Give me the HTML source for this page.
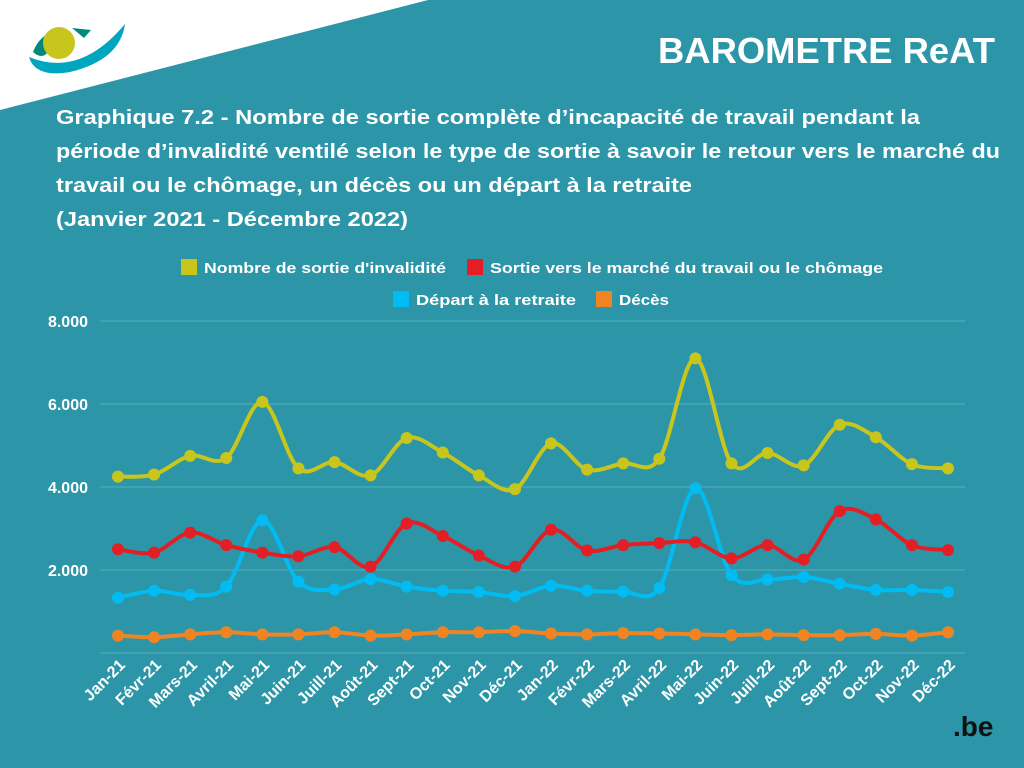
<!DOCTYPE html>
<html><head><meta charset="utf-8"><style>
html,body{margin:0;padding:0;}
body{width:1024px;height:768px;background:#2C96A8;position:relative;overflow:hidden;font-family:"Liberation Sans",sans-serif;color:#fff;}
</style></head><body>
<svg width="1024" height="768" style="position:absolute;left:0;top:0">
<polygon points="0,0 428,0 0,110" fill="#fff"/>
<g>
<path d="M33,52 Q40,33 60,30 L48,52 Q42,60 33,52Z" fill="#00897b"/>
<path d="M72,28 L91,30 L84,38 Z" fill="#00897b"/>
<path d="M29,57 Q80,78 125,24 Q120,60 70,72 Q35,78 29,57Z" fill="#00a5be"/>
<circle cx="59" cy="43" r="16" fill="#c8c61c"/>
</g>
<text x="953" y="736" font-family="Liberation Sans" font-weight="bold" font-size="28" fill="#111">.be</text>
<text x="658" y="63" textLength="337" lengthAdjust="spacingAndGlyphs" font-family="Liberation Sans" font-weight="bold" font-size="36" fill="#fff">BAROMETRE ReAT</text>
<g font-family="Liberation Sans" font-weight="bold" font-size="20" fill="#fff">
<text x="56" y="124" textLength="864" lengthAdjust="spacingAndGlyphs">Graphique 7.2 - Nombre de sortie complète d’incapacité de travail pendant la</text>
<text x="56" y="158" textLength="944" lengthAdjust="spacingAndGlyphs">période d’invalidité ventilé selon le type de sortie à savoir le retour vers le marché du</text>
<text x="56" y="192" textLength="636" lengthAdjust="spacingAndGlyphs">travail ou le chômage, un décès ou un départ à la retraite</text>
<text x="56" y="226" textLength="352" lengthAdjust="spacingAndGlyphs">(Janvier 2021 - Décembre 2022)</text>
</g>
</svg>
<svg id="chart" width="1024" height="768" style="position:absolute;left:0;top:0"></svg>
<script>
const categories=["Jan-21","Févr-21","Mars-21","Avril-21","Mai-21","Juin-21","Juill-21","Août-21","Sept-21","Oct-21","Nov-21","Déc-21","Jan-22","Févr-22","Mars-22","Avril-22","Mai-22","Juin-22","Juill-22","Août-22","Sept-22","Oct-22","Nov-22","Déc-22"];
const sortieInvalidite=[4250,4300,4750,4700,6050,4450,4600,4280,5180,4830,4280,3950,5050,4420,4570,4680,7100,4570,4820,4520,5500,5200,4550,4450];
const marcheTravail=[2500,2420,2900,2600,2420,2330,2550,2080,3120,2820,2350,2080,2970,2470,2600,2650,2670,2280,2600,2250,3420,3220,2600,2480];
const retraite=[1330,1500,1400,1600,3200,1720,1530,1780,1600,1500,1470,1370,1620,1500,1480,1570,3970,1880,1770,1830,1670,1520,1520,1470];
const deces=[420,380,450,500,450,450,500,420,450,500,500,530,470,450,480,470,450,430,450,430,430,460,420,500];
const yTicks=[0,2000,4000,6000,8000];
const yTickLabels=["","2.000","4.000","6.000","8.000"];
const seriesNames=["Nombre de sortie d'invalidité","Sortie vers le marché du travail ou le chômage","Départ à la retraite","Décès"];
const seriesColors=["#c8c61c","#e31e24","#00bcf2","#f08423"];

const NS="http://www.w3.org/2000/svg";
const svg=document.getElementById('chart');
const X0=118,X1=948,Y0=653,YPER=83/2000;
const xs=i=>X0+i*(X1-X0)/(categories.length-1);
const ys=v=>Y0-v*YPER;
function mk(t,a){const e=document.createElementNS(NS,t);for(const k in a)e.setAttribute(k,a[k]);svg.appendChild(e);return e;}
yTicks.forEach((t,i)=>{
  const g=mk('line',{x1:100,x2:965,y1:ys(t),y2:ys(t),stroke:'rgba(255,255,255,0.22)','stroke-width':1});
  
  
  if(yTickLabels[i]){const l=mk('text',{x:88,y:ys(t)+6,'text-anchor':'end','font-size':16,'font-weight':'bold',fill:'#fff','font-family':'Liberation Sans'});
  l.textContent=yTickLabels[i];
  
  }
});
categories.forEach((c,i)=>{
  const x=xs(i)+8,y=666;
  const t=mk('text',{x:x,y:y,'text-anchor':'end','font-size':16,'font-weight':'bold',fill:'#fff','font-family':'Liberation Sans',transform:`rotate(-45 ${x} ${y})`});
  t.textContent=c;
  
  
});
function smooth(pts){let d=`M${pts[0][0]},${pts[0][1]}`;
  for(let i=0;i<pts.length-1;i++){const p0=pts[i-1]||pts[i],p1=pts[i],p2=pts[i+1],p3=pts[i+2]||p2;
    const c1=[p1[0]+(p2[0]-p0[0])/6,p1[1]+(p2[1]-p0[1])/6],c2=[p2[0]-(p3[0]-p1[0])/6,p2[1]-(p3[1]-p1[1])/6];
    d+=` C${c1[0]},${c1[1]} ${c2[0]},${c2[1]} ${p2[0]},${p2[1]}`;}return d;}
[deces,retraite,marcheTravail,sortieInvalidite].forEach((data,k)=>{
  const idx=3-k,col=seriesColors[idx];
  const pts=data.map((v,i)=>[xs(i),ys(v)]);
  const p=mk('path',{d:smooth(pts),fill:'none',stroke:col,'stroke-width':4});
  
  
  pts.forEach(q=>{const c=mk('circle',{cx:q[0],cy:q[1],r:6,fill:col});
    
    });
});
const legPos=[[181,267],[467,267],[393,299],[596,299]];
const legLen=[242,393,160,50];
seriesNames.forEach((n,i)=>{
  const [x,y]=legPos[i];
  const r=mk('rect',{x:x,y:y-8,width:16,height:16,fill:seriesColors[i]});
  
  
  const t=mk('text',{x:x+23,y:y+6,'font-size':15,'font-weight':'bold',fill:'#fff','font-family':'Liberation Sans',textLength:legLen[i],lengthAdjust:'spacingAndGlyphs'});
  t.textContent=n;
  
  
});
</script>
</body></html>
